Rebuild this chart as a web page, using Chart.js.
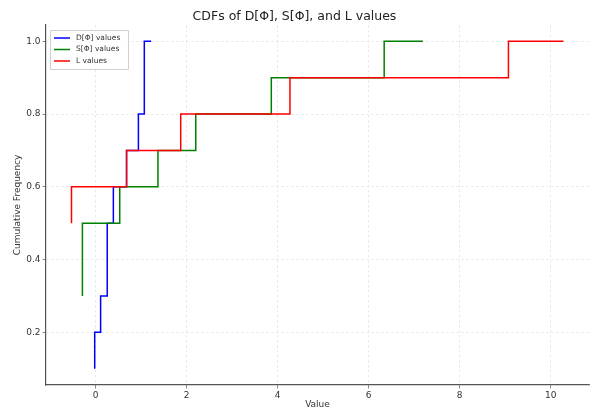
<!DOCTYPE html>
<html lang="en">

<head>
    <meta charset="UTF-8">
    <title>CDFs of D[Φ], S[Φ], and L values</title>
    <script src="https://cdn.jsdelivr.net/npm/chart.js"></script>
    <style>
        html, body { margin: 0; padding: 0; background: #fff; }
        #wrap { width: 595px; height: 410px; }
    </style>
</head>

<body>
    <div id="wrap"><canvas id="cdfChart"></canvas></div>

    <script>
        // Datos (puntos de cada escalon)
        const dX = [-0.02, 0.11, 0.255, 0.39, 0.68, 0.94, 1.07, 1.22];
        const dY = [0.1, 0.2, 0.3, 0.5, 0.6, 0.7, 0.8, 1.0];
        const sX = [-0.29, 0.53, 1.37, 2.2, 3.86, 6.34, 7.19];
        const sY = [0.3, 0.5, 0.6, 0.7, 0.8, 0.9, 1.0];
        const lX = [-0.53, 0.68, 1.87, 4.27, 9.07, 10.28];
        const lY = [0.5, 0.6, 0.7, 0.8, 0.9, 1.0];

        const seriesNames = ['D[Φ] values', 'S[Φ] values', 'L values'];
        const xTicks = [0, 2, 4, 6, 8, 10];
        const yTicks = [0.2, 0.4, 0.6, 0.8, 1.0];

        const toPoints = (xs, ys) => xs.map((x, i) => ({ x: x, y: ys[i] }));
        const font = 'DejaVu Sans';

        // Leyenda dentro del area del grafico
        const innerLegend = {
            id: 'innerLegend',
            afterDraw(chart) {
                const { ctx, chartArea } = chart;
                const x0 = chartArea.left + 4, y0 = chartArea.top + 5;
                ctx.save();
                ctx.fillStyle = 'rgba(255,255,255,0.8)';
                ctx.strokeStyle = '#d0d0d0';
                ctx.lineWidth = 1;
                ctx.beginPath();
                ctx.rect(x0 + 0.5, y0 + 0.5, 78, 39);
                ctx.fill();
                ctx.stroke();
                ctx.font = '7.5px "' + font + '"';
                ctx.textBaseline = 'middle';
                chart.data.datasets.forEach((ds, i) => {
                    const yy = y0 + 8 + i * 11.5;
                    ctx.strokeStyle = ds.borderColor;
                    ctx.lineWidth = 1.5;
                    ctx.beginPath();
                    ctx.moveTo(x0 + 4, yy);
                    ctx.lineTo(x0 + 20, yy);
                    ctx.stroke();
                    ctx.fillStyle = '#333';
                    ctx.fillText(ds.label, x0 + 26, yy);
                });
                ctx.restore();
            }
        };

        const ctx = document.getElementById('cdfChart').getContext('2d');
        new Chart(ctx, {
            type: 'scatter',
            data: {
                datasets: [
                    { label: seriesNames[0], data: toPoints(dX, dY), borderColor: '#0000ff', order: 3 },
                    { label: seriesNames[1], data: toPoints(sX, sY), borderColor: '#008000', order: 2 },
                    { label: seriesNames[2], data: toPoints(lX, lY), borderColor: '#ff0000', order: 1 }
                ].map(d => Object.assign(d, {
                    showLine: true, stepped: 'after', borderWidth: 1.5,
                    pointRadius: 0, fill: false
                }))
            },
            options: {
                responsive: true,
                maintainAspectRatio: false,
                animation: false,
                layout: { padding: { left: 0, right: 6, top: 0, bottom: 0 } },
                plugins: {
                    legend: { display: false },
                    tooltip: { enabled: false },
                    title: {
                        display: true,
                        text: 'CDFs of D[Φ], S[Φ], and L values',
                        color: '#222',
                        font: { family: font, size: 12.5, weight: 'normal' },
                        padding: { top: 9, bottom: 1 }
                    }
                },
                scales: {
                    x: {
                        type: 'linear',
                        min: -1.09, max: 10.84,
                        afterBuildTicks: s => { s.ticks = xTicks.map(v => ({ value: v })); },
                        afterFit: s => { s.height = 25; },
                        ticks: { color: '#333', font: { family: font, size: 9 }, padding: 2 },
                        grid: { color: '#e0e0e0', lineWidth: 0.7, tickLength: 3.5, tickColor: '#555', tickBorderDash: [] },
                        border: { display: true, color: '#555', width: 1.2, dash: [2.5, 2.5] },
                        title: { display: true, text: 'Value', color: '#333', font: { family: font, size: 9 }, padding: { top: 0, bottom: 0 } }
                    },
                    y: {
                        type: 'linear',
                        min: 0.055, max: 1.045,
                        afterBuildTicks: s => { s.ticks = yTicks.map(v => ({ value: v })); },
                        afterFit: s => { s.width = 46; },
                        ticks: { color: '#333', font: { family: font, size: 9 }, padding: 2, callback: v => v.toFixed(1) },
                        grid: { color: '#e0e0e0', lineWidth: 0.7, tickLength: 3.5, tickColor: '#555', tickBorderDash: [] },
                        border: { display: true, color: '#555', width: 1.2, dash: [2.5, 2.5] },
                        title: { display: true, text: 'Cumulative Frequency', color: '#333', font: { family: font, size: 9 }, padding: { top: 12, bottom: 0 } }
                    }
                }
            },
            plugins: [innerLegend]
        });
    </script>
</body>

</html>
